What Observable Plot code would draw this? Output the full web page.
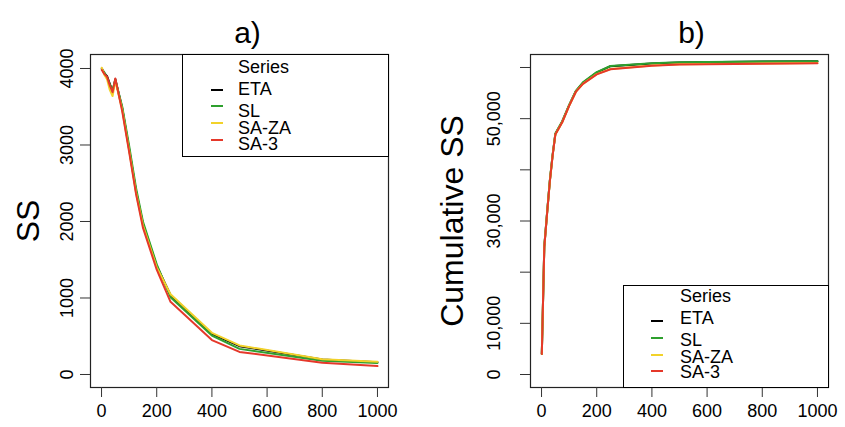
<!DOCTYPE html>
<html>
<head>
<meta charset="utf-8">
<script src="https://cdn.jsdelivr.net/npm/d3@7"></script>
<script src="https://cdn.jsdelivr.net/npm/@observablehq/plot@0.6"></script>
<style>
  html, body { margin: 0; padding: 0; background: #fff; }
  #wrap { position: relative; width: 845px; height: 427px; font-family: "Liberation Sans", Arial, sans-serif; overflow: hidden; }
  #wrap svg { position: absolute; top: 0; }
  .legend { position: absolute; border: 1px solid #000; background: #fff; box-sizing: border-box; font-size: 18px; color: #000; }
  .legend .it { position: absolute; white-space: nowrap; line-height: 1; }
  .legend .mk { position: absolute; height: 1.6px; }
</style>
</head>
<body>
<div id="wrap"></div>
<script>
// ---- data ----
const seriesNames = ["ETA", "SL", "SA-ZA", "SA-3"];
const seriesColors = ["#000000", "#2ea02e", "#f2d22a", "#e5382a"];
const iters = [1, 10, 20, 30, 40, 50, 75, 100, 125, 150, 200, 250, 400, 500, 800, 1000];

const ssETA  = [4000, 3940, 3900, 3800, 3700, 3860, 3480, 2950, 2400, 1970, 1420, 1040, 530, 370, 195, 160];
const ssSL   = [3990, 3950, 3880, 3790, 3720, 3850, 3500, 2990, 2440, 2000, 1440, 1010, 510, 335, 180, 150];
const ssSAZA = [4010, 3920, 3860, 3720, 3640, 3840, 3460, 2930, 2380, 1950, 1400, 1050, 545, 380, 200, 165];
const ssSA3  = [3980, 3930, 3890, 3780, 3690, 3870, 3440, 2910, 2360, 1920, 1370, 950, 450, 295, 155, 110];

const cumETA  = [4000, 25000, 31500, 37800, 42800, 47000, 49400, 52600, 55400, 57000, 59000, 60250, 60800, 61000, 61150, 61200];
const cumSL   = [4000, 25100, 31600, 37900, 42900, 47100, 49500, 52700, 55500, 57100, 59100, 60300, 60820, 61020, 61170, 61230];
const cumSAZA = [4000, 24900, 31400, 37700, 42700, 46900, 49300, 52500, 55300, 56800, 58700, 59700, 60400, 60650, 60800, 60900];
const cumSA3  = [4000, 24900, 31400, 37700, 42700, 46900, 49300, 52500, 55300, 56800, 58650, 59650, 60350, 60600, 60750, 60850];

const xTicks = [0, 200, 400, 600, 800, 1000];
const ssTicks = [0, 1000, 2000, 3000, 4000];
const cumTicks = [0, 10000, 20000, 30000, 40000, 50000, 60000];
const cumLabeled = [0, 10000, 30000, 50000];

function long(vals) {
  const out = [];
  vals.forEach((arr, si) => arr.forEach((v, i) => out.push({series: seriesNames[si], x: iters[i], y: v})));
  return out;
}
const ssData = long([ssETA, ssSL, ssSAZA, ssSA3]);
const cumData = long([cumETA, cumSL, cumSAZA, cumSA3]);

const FONT = "Liberation Sans, Arial, sans-serif";
const wrap = document.getElementById("wrap");

function panel({data, yDomain, yTicks, yFmt, width, marginLeft, marginRight, title, titleDx, ylab, ylabDx, tickDx}) {
  return Plot.plot({
    width, height: 427,
    marginLeft, marginRight, marginTop: 54, marginBottom: 40,
    style: {fontFamily: FONT, fontSize: "18px", background: "transparent", color: "#000"},
    x: {domain: [-40, 1040], axis: null},
    y: {domain: yDomain, axis: null},
    color: {domain: seriesNames, range: seriesColors},
    marks: [
      Plot.frame({stroke: "#222", strokeWidth: 1.2}),
      Plot.axisX({ticks: xTicks, tickSize: 10, tickPadding: 7, fontSize: 18, tickFormat: d => String(d), label: null, stroke: "#333"}),
      Plot.axisY({ticks: yTicks, tickSize: 10, tickFormat: () => "", label: null, stroke: "#333"}),
      Plot.text(yTicks, {y: d => d, frameAnchor: "left", dx: tickDx, text: yFmt, rotate: -90, textAnchor: "middle", fontSize: 18}),
      Plot.text([title], {frameAnchor: "top", dy: -33, dx: titleDx, fontSize: 30, textAnchor: "middle"}),
      Plot.text([ylab], {frameAnchor: "left", dx: ylabDx, rotate: -90, fontSize: 32, textAnchor: "middle"}),
      Plot.line(data, {x: "x", y: "y", z: "series", stroke: "series", strokeWidth: 2})
    ]
  });
}

const left = panel({
  data: ssData, yDomain: [-170, 4183], yTicks: ssTicks, yFmt: d => String(d),
  width: 420, marginLeft: 90, marginRight: 32,
  title: "a)", titleDx: 8, ylab: "SS", ylabDx: -62, tickDx: -23
});
left.style.left = "0px";
wrap.appendChild(left);

const right = panel({
  data: cumData, yDomain: [-2540, 62540], yTicks: cumTicks,
  yFmt: d => cumLabeled.includes(d) ? d3.format(",")(d) : "",
  width: 425, marginLeft: 110, marginRight: 17,
  title: "b)", titleDx: 12, ylab: "Cumulative SS", ylabDx: -78, tickDx: -36
});
right.style.left = "420px";
wrap.appendChild(right);

// ---- legends ----
function legend({left, top, width, height, titlePos, entries}) {
  const box = document.createElement("div");
  box.className = "legend";
  Object.assign(box.style, {left: left + "px", top: top + "px", width: width + "px", height: height + "px"});
  const t = document.createElement("div");
  t.className = "it"; t.textContent = "Series";
  t.style.left = titlePos[0] + "px"; t.style.top = titlePos[1] + "px";
  box.appendChild(t);
  entries.forEach((e, i) => {
    const mk = document.createElement("div");
    mk.className = "mk";
    Object.assign(mk.style, {left: e.mx + "px", top: e.my + "px", width: "12px", background: seriesColors[i]});
    box.appendChild(mk);
    const tx = document.createElement("div");
    tx.className = "it"; tx.textContent = seriesNames[i];
    tx.style.left = e.tx + "px"; tx.style.top = e.ty + "px";
    box.appendChild(tx);
  });
  wrap.appendChild(box);
}
// left legend box: 182..389 x 54..157
legend({
  left: 182, top: 54, width: 207, height: 103, titlePos: [55, 3],
  entries: [
    {mx: 28, my: 34, tx: 55, ty: 25},
    {mx: 28, my: 50, tx: 55, ty: 47},
    {mx: 28, my: 67, tx: 55, ty: 64},
    {mx: 28, my: 84, tx: 55, ty: 80}
  ]
});
// right legend box: 623..829 x 285..388
legend({
  left: 623, top: 285, width: 206, height: 103, titlePos: [56, 1],
  entries: [
    {mx: 27, my: 34, tx: 56, ty: 23},
    {mx: 27, my: 51, tx: 56, ty: 45},
    {mx: 27, my: 68, tx: 56, ty: 62},
    {mx: 27, my: 84, tx: 56, ty: 77}
  ]
});
</script>
</body>
</html>
